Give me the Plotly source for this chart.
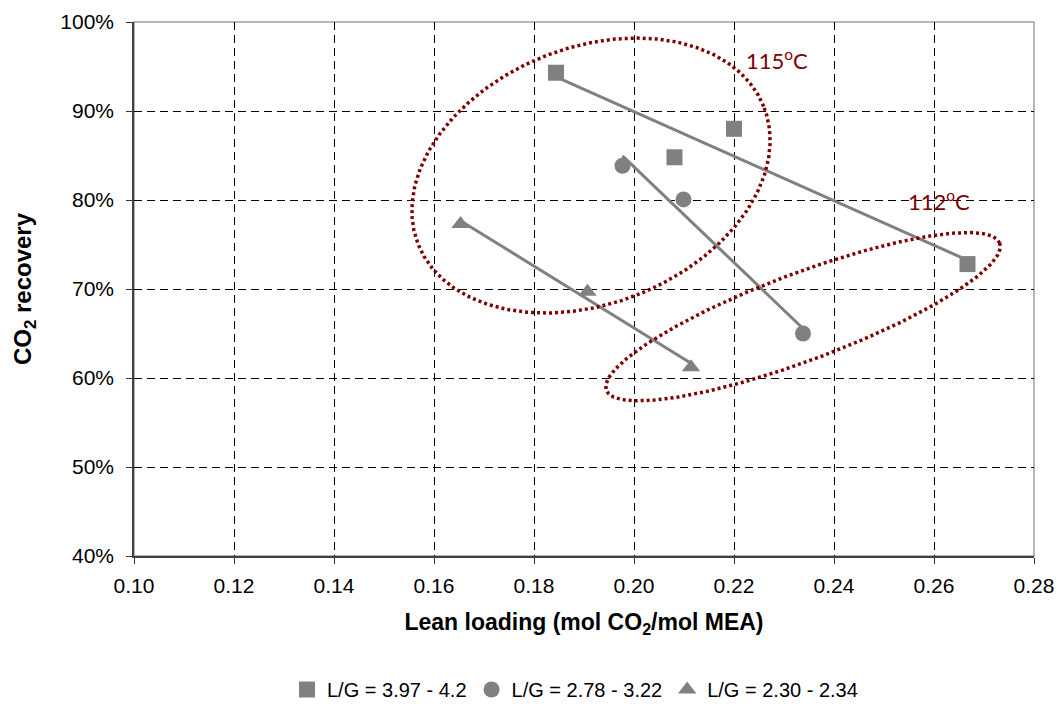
import numpy as np
import plotly.graph_objects as go

# Data
sq_x = [0.1844, 0.2081, 0.2200, 0.2667]
sq_y = [0.943, 0.848, 0.880, 0.728]
ci_x = [0.1977, 0.2099, 0.2338]
ci_y = [0.8385, 0.8007, 0.650]
tr_x = [0.1653, 0.1907, 0.2114]
tr_y = [0.773, 0.697, 0.612]
series_names = ["L/G = 3.97 - 4.2", "L/G = 2.78 - 3.22", "L/G = 2.30 - 2.34"]
series_symbols = ["square", "circle", "triangle-up"]

x_ticks = [0.10, 0.12, 0.14, 0.16, 0.18, 0.20, 0.22, 0.24, 0.26, 0.28]
y_ticks = [0.4, 0.5, 0.6, 0.7, 0.8, 0.9, 1.0]

GRAY = "#808080"
RED = "#800000"

# plot geometry (pixels)
L, R, T, B = 134, 26, 22, 152
W, H = 1060, 708
pw = W - L - R
ph = H - T - B
xr = [0.10, 0.28]
yr = [0.40, 1.00]
sx = pw / (xr[1] - xr[0])   # px per x unit
sy = ph / (yr[1] - yr[0])   # px per y unit

fig = go.Figure()

for xs, ys, name, sym in zip([sq_x, ci_x, tr_x], [sq_y, ci_y, tr_y], series_names, series_symbols):
    a, b = np.polyfit(xs, ys, 1)
    lx = np.array([min(xs), max(xs)])
    fig.add_trace(go.Scatter(x=lx, y=a * lx + b, mode="lines",
                             line=dict(color=GRAY, width=3), showlegend=False, hoverinfo="skip"))
    fig.add_trace(go.Scatter(x=xs, y=ys, mode="markers", name=name,
                             marker=dict(symbol=sym, size=16, color=GRAY, line=dict(width=0))))

# Ellipse annotations (center in data coords, semi-axes in px, tilt in degrees)
ellipses = [
    dict(cx=0.1914, cy=0.8275, a=186, b=128, ang=21.8),
    dict(cx=0.2338, cy=0.6689, a=210, b=43.6, ang=20.5),
]
t = np.linspace(0, 2 * np.pi, 400)
for e in ellipses:
    th = np.radians(e["ang"])
    dx = e["a"] * np.cos(t) * np.cos(th) - e["b"] * np.sin(t) * np.sin(th)
    dy = e["a"] * np.cos(t) * np.sin(th) + e["b"] * np.sin(t) * np.cos(th)
    fig.add_trace(go.Scatter(x=e["cx"] + dx / sx, y=e["cy"] + dy / sy, mode="lines",
                             line=dict(color=RED, width=3.5, dash="3px,3px"),
                             showlegend=False, hoverinfo="skip"))

fig.add_annotation(x=0.2220, y=0.958, text="115<sup>o</sup>C", showarrow=False,
                   xanchor="left", yanchor="middle",
                   font=dict(family="Lato, Open Sans, sans-serif", size=22, color=RED))
fig.add_annotation(x=0.2544, y=0.799, text="112<sup>o</sup>C", showarrow=False,
                   xanchor="left", yanchor="middle",
                   font=dict(family="Lato, Open Sans, sans-serif", size=22, color=RED))

axis_common = dict(showgrid=True, gridcolor="black", gridwidth=1, griddash="8px,5px",
                   zeroline=False, ticks="outside", ticklen=6, tickcolor="#333",
                   tickfont=dict(family="Liberation Sans, Arial", size=21, color="black"),
                   showline=True, linecolor="#404040", linewidth=1.5, mirror=False,
                   automargin=False)

fig.update_xaxes(range=xr, tickvals=x_ticks, tickformat=".2f", ticklabelstandoff=4,
                 title=dict(text="<b>Lean loading (mol CO<sub>2</sub>/mol MEA)</b>",
                            font=dict(family="Liberation Sans, Arial", size=23, color="black"),
                            standoff=18),
                 **axis_common)
fig.update_yaxes(range=yr, tickvals=y_ticks, tickformat=".0%", ticklabelstandoff=8,
                 title=dict(text="<b>CO<sub>2</sub> recovery</b>",
                            font=dict(family="Liberation Sans, Arial", size=24, color="black"),
                            standoff=22),
                 **axis_common)

# top/right gray border
fig.add_shape(type="rect", xref="paper", yref="paper", x0=0, y0=0, x1=1, y1=1,
              line=dict(color="#A0A0A0", width=1.5), layer="below")

fig.update_layout(
    width=W, height=H,
    margin=dict(l=L, r=R, t=T, b=B, autoexpand=False),
    plot_bgcolor="white", paper_bgcolor="white",
    showlegend=True,
    legend=dict(orientation="h", x=0.49, xanchor="center", y=-0.25, yanchor="middle",
                font=dict(family="Liberation Sans, Arial", size=20, color="black"),
                itemwidth=30, tracegroupgap=0),
)

fig.write_html("out.html")
